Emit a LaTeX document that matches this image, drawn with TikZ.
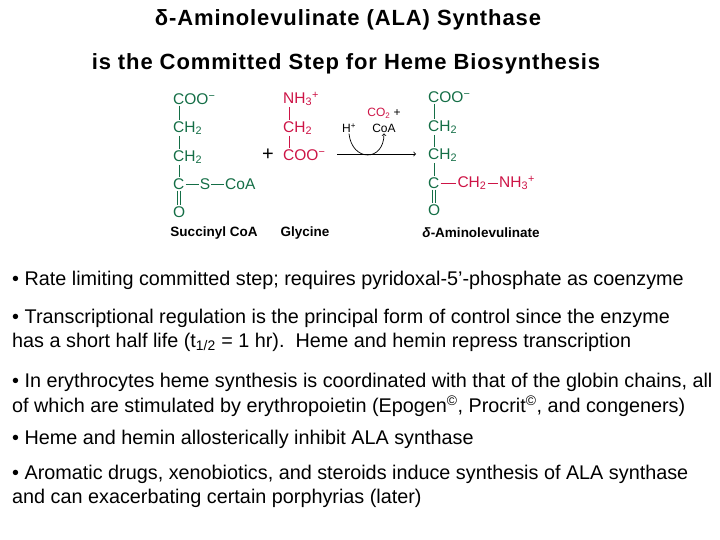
\documentclass[tikz,border=0pt]{standalone}
\usepackage{fontspec}
\setmainfont{Liberation Sans}
\definecolor{chemg}{RGB}{20,110,70}
\definecolor{chemr}{RGB}{205,20,70}
\begin{document}
\begin{tikzpicture}[x=1pt,y=-1pt,
  ttl/.style={font=\fontsize{22}{24}\selectfont\bfseries\addfontfeature{LetterSpace=4}},
  body/.style={anchor=west,font=\fontsize{19.8}{22}\selectfont,inner sep=0},
  g/.style={text=chemg,font=\fontsize{15.5}{17}\selectfont,inner sep=1pt},
  r/.style={text=chemr,font=\fontsize{15.5}{17}\selectfont,inner sep=1pt},
  sm/.style={font=\fontsize{12}{13}\selectfont,inner sep=1pt},
  lab/.style={font=\fontsize{13.5}{15}\selectfont\bfseries,inner sep=0},
  gb/.style={draw=chemg,line width=0.9pt},
  rb/.style={draw=chemr,line width=0.9pt}]
\useasboundingbox (0,0) rectangle (720,540);
\node[ttl] (t1) at (348,20) {δ-Aminolevulinate (ALA) Synthase};
\node[ttl] (t2) at (346,64) {is the Committed Step for Heme Biosynthesis};
% succinyl CoA
\node[g,anchor=west] (a1) at (172,99) {COO\textsuperscript{−}};
\node[g,anchor=west] (a2) at (172,128) {CH\textsubscript{2}};
\node[g,anchor=west] (a3) at (172,157) {CH\textsubscript{2}};
\node[g,anchor=west] (a4) at (172,184) {C};
\node[g] (a5) at (205,184) {S};
\node[g,anchor=west] (a6) at (224,184) {CoA};
\node[g,anchor=west] (a7) at (172,212) {O};
\draw[gb] ([xshift=7]a1.south west) -- ([xshift=7]a2.north west);
\draw[gb] ([xshift=7]a2.south west) -- ([xshift=7]a3.north west);
\draw[gb] ([xshift=7]a3.south west) -- ([xshift=7]a4.north west);
\draw[gb] ([xshift=5.5]a4.south west) -- ([xshift=5.5]a7.north west);
\draw[gb] ([xshift=8.5]a4.south west) -- ([xshift=8.5]a7.north west);
\draw[gb] (a4.east) -- (a5.west);
\draw[gb] (a5.east) -- (a6.west);
\node[lab] (l1) at (214,233) {Succinyl CoA};
% glycine
\node[font=\fontsize{20}{20}\selectfont] (plus) at (268,155) {+};
\node[r,anchor=west] (b1) at (282,99) {NH\textsubscript{3}\textsuperscript{+}};
\node[r,anchor=west] (b2) at (282,128) {CH\textsubscript{2}};
\node[r,anchor=west] (b3) at (282,155) {COO\textsuperscript{−}};
\draw[rb] ([xshift=7]b1.south west) -- ([xshift=7]b2.north west);
\draw[rb] ([xshift=7]b2.south west) -- ([xshift=7]b3.north west);
\node[lab] (l2) at (305,233) {Glycine};
% arrow
\coordinate (s) at (337,154);
\coordinate (e) at (416,154);
\draw[->,line width=0.8pt] (s) -- (e);
\node[sm] (h) at (349,128) {H\textsuperscript{+}};
\node[sm] (co2) at (384,113) {\textcolor{chemr}{CO\textsubscript{2}} +};
\node[sm] (coa) at (384,128) {CoA};
\draw[->,line width=0.7pt] (h.south) .. controls (352,162) and (384,162) .. (coa.south);
% product
\node[g,anchor=west] (c1) at (427,97) {COO\textsuperscript{−}};
\node[g,anchor=west] (c2) at (427,127) {CH\textsubscript{2}};
\node[g,anchor=west] (c3) at (427,155) {CH\textsubscript{2}};
\node[g,anchor=west] (c4) at (427,183) {C};
\node[r] (c5) at (472,183) {CH\textsubscript{2}};
\node[r,anchor=west] (c6) at (498,183) {NH\textsubscript{3}\textsuperscript{+}};
\node[g,anchor=west] (c7) at (427,210) {O};
\draw[gb] ([xshift=7]c1.south west) -- ([xshift=7]c2.north west);
\draw[gb] ([xshift=7]c2.south west) -- ([xshift=7]c3.north west);
\draw[gb] ([xshift=7]c3.south west) -- ([xshift=7]c4.north west);
\draw[gb] ([xshift=5.5]c4.south west) -- ([xshift=5.5]c7.north west);
\draw[gb] ([xshift=8.5]c4.south west) -- ([xshift=8.5]c7.north west);
\draw[rb] (c4.east) -- (c5.west);
\draw[rb] (c5.east) -- (c6.west);
\node[lab] (l3) at (481,233) {\textit{δ}-Aminolevulinate};
% bullets
\node[body] (p1) at (12,280) {• Rate limiting committed step; requires pyridoxal-5’-phosphate as coenzyme};
\node[body] (p2) at (12,318) {• Transcriptional regulation is the principal form of control since the enzyme};
\node[body] (p2b) at (12,342) {has a short half life (t\textsubscript{1/2} = 1 hr).\ \ Heme and hemin repress transcription};
\node[body] (p3) at (12,382) {• In erythrocytes heme synthesis is coordinated with that of the globin chains, all};
\node[body] (p3b) at (12,406) {of which are stimulated by erythropoietin (Epogen\textsuperscript{©}, Procrit\textsuperscript{©}, and congeners)};
\node[body] (p4) at (12,439) {• Heme and hemin allosterically inhibit ALA synthase};
\node[body] (p5) at (12,474) {• Aromatic drugs, xenobiotics, and steroids induce synthesis of ALA synthase};
\node[body] (p5b) at (12,498) {and can exacerbating certain porphyrias (later)};
\end{tikzpicture}
\end{document}
